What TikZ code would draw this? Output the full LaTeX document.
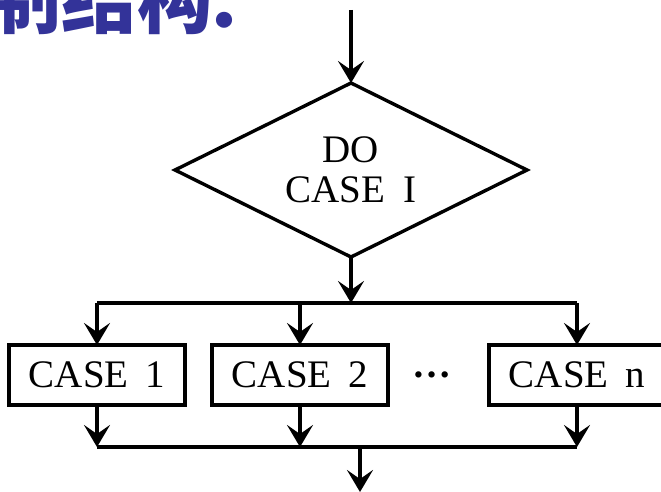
\documentclass[tikz,border=0pt]{standalone}
\usepackage{fontspec}
\setmainfont{Liberation Serif}
\newfontfamily\cjkfont{Noto Sans CJK SC}
\usetikzlibrary{shapes.geometric,arrows.meta}
\definecolor{titleblue}{RGB}{51,51,153}
\tikzset{
  flow/.style={line width=3.4pt},
  flowarrow/.style={flow,-{Stealth[length=22pt,width=26pt,inset=9pt]}},
  casebox/.style={draw,line width=3.4pt,minimum width=176pt,minimum height=60pt,
    inner sep=0pt,outer sep=0pt,font=\fontsize{39}{40}\selectfont},
  decision/.style={draw,diamond,aspect=2,line width=3.4pt,minimum width=352pt,minimum height=174pt,
    inner sep=0pt,outer sep=0pt,align=center,font=\fontsize{39}{40}\selectfont},
}
\begin{document}
\begin{tikzpicture}[x=1pt,y=-1pt]
\useasboundingbox (0,0) rectangle (661,492);
\clip (0,0) rectangle (661,492);
% heading, partly cut off at the top
\node[anchor=base west,inner sep=0pt,text=titleblue,font=\cjkfont\bfseries\fontsize{76}{76}\selectfont]
  (title) at (-15,28) {制结构\kern-8pt：};
% decision and cases
\node[decision] (doc) at (351,170) {DO\\CASE\hspace{18pt}I};
\node[casebox] (c1) at (97,375) {CASE\hspace{17pt}1};
\node[casebox] (c2) at (300,375) {CASE\hspace{17pt}2};
\node[casebox] (cn) at (577,375) {CASE\hspace{17pt}n};
\node[inner sep=0pt,anchor=base,font=\bfseries\fontsize{39}{40}\selectfont] (dots) at (432,377) {…};
% junction points
\coordinate (in) at (351,10);
\coordinate (split) at (351,303);
\coordinate (s1) at (97,303);
\coordinate (s2) at (300,303);
\coordinate (sn) at (577,303);
\coordinate (m1) at (97,447);
\coordinate (m2) at (300,447);
\coordinate (mn) at (577,447);
\coordinate (mout) at (360,447);
\coordinate (out) at (360,492);
% connectors
\draw[flowarrow] (in) -- (doc.north);
\draw[flowarrow] (doc.south) -- (split);
\draw[flow] (s1) -- (sn);
\draw[flowarrow] (s1) -- (c1.north);
\draw[flowarrow] (s2) -- (c2.north);
\draw[flowarrow] (sn) -- (cn.north);
\draw[flowarrow] (c1.south) -- (m1);
\draw[flowarrow] (c2.south) -- (m2);
\draw[flowarrow] (cn.south) -- (mn);
\draw[flow] (m1) -- (mn);
\draw[flowarrow] (mout) -- (out);
\end{tikzpicture}
\end{document}
